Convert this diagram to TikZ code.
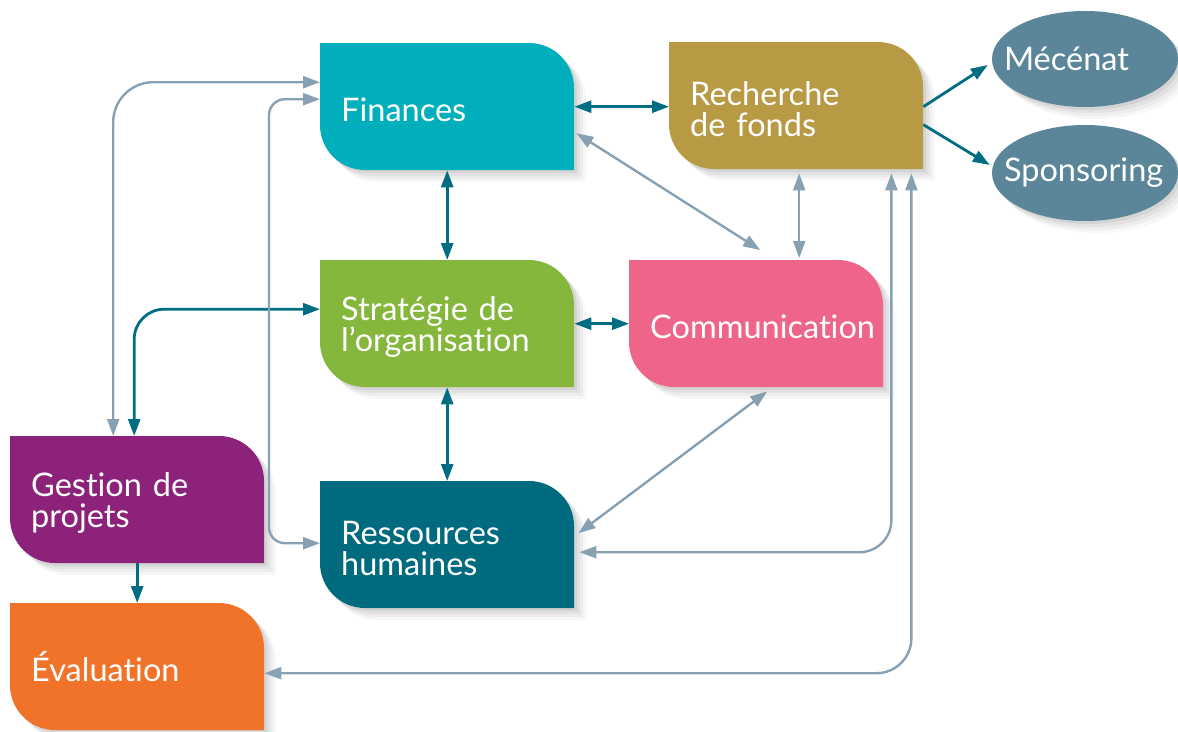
\documentclass[tikz,border=0pt]{standalone}
\usepackage{fontspec}
\setmainfont{Lato}[Ligatures=NoCommon]
\usetikzlibrary{arrows.meta,calc,shapes.geometric}
\definecolor{cfin}{HTML}{00AEBC}
\definecolor{crec}{HTML}{B89A45}
\definecolor{cstr}{HTML}{84B73B}
\definecolor{ccom}{HTML}{EF6489}
\definecolor{cges}{HTML}{8C2279}
\definecolor{cres}{HTML}{006A7E}
\definecolor{ceva}{HTML}{F1732A}
\definecolor{cell}{HTML}{5B8699}
\definecolor{cdark}{HTML}{006D82}
\definecolor{cgray}{HTML}{87A1B2}
\newcommand\blobfill[3]{\fill[#3] (#1,#2) -- (#1+254-45,#2) arc[start angle=90,end angle=0,radius=45pt] -- (#1+254,#2+127) -- (#1+45,#2+127) arc[start angle=270,end angle=180,radius=45pt] -- cycle;}
\newcommand\blob[5]{\blobfill{#2}{#3}{#4}\node[boxtext,anchor=north west] (#1) at (#2,#3) {\setlength\lineskiplimit{-30pt}\rule{0pt}{30pt}#5};}
\tikzset{
  boxtext/.style={rectangle, minimum width=254pt, minimum height=127pt, text width=212pt, inner xsep=21pt, inner ysep=0pt, align=left, text=white, font=\fontsize{32.5}{31}\selectfont},
  ell/.style={ellipse, fill=cell, minimum width=186pt, minimum height=96pt, inner xsep=-30pt, inner ysep=0pt, text width=162pt, align=left, text=white, font=\fontsize{32.5}{31}\selectfont},
  dk/.style={draw=cdark, line width=2.8pt, arrows={-}},
  gr/.style={draw=cgray, line width=2.4pt},
  >={Triangle[length=17pt,width=12pt]},
}
\begin{document}
\begin{tikzpicture}[x=1pt,y=-1pt]
\useasboundingbox (0,0) rectangle (1178,731);
% shadows
\foreach \L/\T in {320/43, 669/42, 320/260, 629/260, 10/436, 320/481, 10/603} {
  \foreach \s/\o in {3/0.06,6/0.05,9/0.04,12/0.03} {
    \blobfill{\L}{\T}{black,opacity=\o,shift={(\s,\s)}}
  }
}
\foreach \s/\o in {3/0.06,6/0.05,9/0.04,12/0.03} {
  \fill[black,opacity=\o,shift={(\s,\s)}] (1085,59) ellipse[x radius=93pt, y radius=48pt];
  \fill[black,opacity=\o,shift={(\s,\s)}] (1085,173) ellipse[x radius=93pt, y radius=48pt];
}
% boxes
\blob{fin}{320}{43}{cfin}{Finances}
\blob{rec}{669}{42}{crec}{Recherche\\de fonds}
\blob{str}{320}{260}{cstr}{Stratégie de\\l’organisation}
\blob{com}{629}{260}{ccom}{Communication}
\blob{ges}{10}{436}{cges}{Gestion de\\projets}
\blob{res}{320}{481}{cres}{Ressources\\humaines}
\blob{eva}{10}{603}{ceva}{Évaluation}
\node[ell] (mec) at (1085,59) {Mécénat};
\node[ell] (spo) at (1085,173) {Sponsoring};
% dark connectors
\draw[dk,<->] (fin.east) -- (fin.east -| rec.west);
\draw[dk,<->] (fin.south) -- (str.north);
\draw[dk,<->] (str.south) -- (res.north);
\draw[dk,<->] (str.east) -- (com.west);
\draw[dk,->] (ges.south) -- (eva.north);
\draw[dk,<->,rounded corners=30pt] ($(str.west)+(0,-14.5)$) -| ($(ges.north)+(-3,0)$);
\draw[dk,->] ($(rec.east)+(0,1)$) -- ($(mec.west)+(-4,6)$);
\draw[dk,->] ($(rec.east)+(0,19)$) -- ($(spo.west)+(-2,-8)$);
% gray connectors
\draw[gr,<->,rounded corners=40pt] ($(fin.west)+(0,-24.5)$) -| ($(ges.north)+(-24,0)$);
\draw[gr,<->,rounded corners=16pt] ($(fin.west)+(0,-7.5)$) -| ($(res.west)+(-51,-1.5)$) -- ($(res.west)+(0,-1.5)$);
\draw[gr,<->] ($(fin.east)+(2,26.5)$) -- ($(com.north)+(4,-10)$);
\draw[gr,<->] ($(rec.south)+(3,4)$) -- ($(com.north)+(43,-2)$);
\draw[gr,<->,rounded corners=32pt] ($(rec.south east)+(-32,4)$) |- ($(res.east)+(5,7.5)$);
\draw[gr,<->,rounded corners=35pt] ($(rec.south east)+(-12,4)$) |- ($(eva.east)+(0,6.5)$);
\draw[gr,<->] ($(com.south)+(11,4)$) -- ($(res.east)+(4,-11.5)$);
\end{tikzpicture}
\end{document}
